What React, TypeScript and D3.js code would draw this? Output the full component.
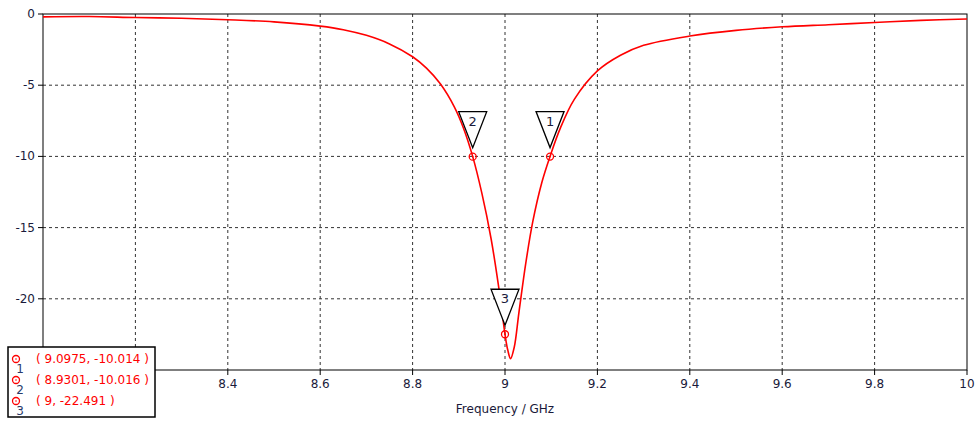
import React from 'react';
import * as d3 from 'd3';

const width = 977;
const height = 421;
const margin = { top: 14, right: 10, bottom: 51, left: 43 };

// S11 curve (GHz, dB)
const freq = [8.0, 8.1, 8.2, 8.3, 8.4, 8.5, 8.6, 8.65, 8.7, 8.75, 8.8, 8.83, 8.86, 8.89, 8.91, 8.93, 8.95, 8.97, 8.99, 9.0, 9.006, 9.012, 9.02, 9.03, 9.045, 9.06, 9.08, 9.0975, 9.12, 9.15, 9.2, 9.25, 9.3, 9.4, 9.5, 9.6, 9.7, 9.8, 9.9, 10.0];
const s11 = [-0.2, -0.18, -0.25, -0.3, -0.4, -0.55, -0.85, -1.1, -1.5, -2.1, -3.0, -3.8, -4.9, -6.5, -8.0, -10.0, -12.6, -15.8, -20.0, -22.5, -23.6, -24.2, -23.4, -21.0, -17.5, -14.6, -11.8, -10.0, -8.0, -6.0, -4.0, -2.9, -2.2, -1.55, -1.15, -0.9, -0.75, -0.6, -0.45, -0.35];

const markerIds = ['1', '2', '3'];
const markerX = [9.0975, 8.9301, 9];
const markerY = [-10.014, -10.016, -22.491];
const markerText = ['( 9.0975, -10.014 )', '( 8.9301, -10.016 )', '( 9, -22.491 )'];

const xTicks = [8.2, 8.4, 8.6, 8.8, 9, 9.2, 9.4, 9.6, 9.8, 10];
const yTicks = [0, -5, -10, -15, -20, -25];

const font = 'Tahoma, "DejaVu Sans", Verdana, sans-serif';
const tickColor = '#1a1a3a';

export default function App() {
  const x = d3.scaleLinear().domain([8, 10]).range([margin.left, width - margin.right]);
  const y = d3.scaleLinear().domain([-25, 0]).range([height - margin.bottom, margin.top]);
  const pts: [number, number][] = freq.map((f, i) => [f, s11[i]]);
  const line = d3.line<[number, number]>()
    .x(d => x(d[0]))
    .y(d => y(d[1]))
    .curve(d3.curveCatmullRom.alpha(0.5));

  const x0 = margin.left, x1 = width - margin.right;
  const y0 = margin.top, y1 = height - margin.bottom;

  return (
    <svg width={width} height={height} style={{ position: 'absolute', left: 0, top: 0, background: '#fff' }} fontFamily={font}>
      {/* grid */}
      {xTicks.filter(t => t < 10).map(t => (
        <line key={'gx' + t} x1={x(t)} x2={x(t)} y1={y0} y2={y1} stroke="#333" strokeDasharray="3,3" strokeWidth={1} />
      ))}
      {yTicks.filter(t => t < 0 && t > -25).map(t => (
        <line key={'gy' + t} x1={x0} x2={x1} y1={y(t)} y2={y(t)} stroke="#333" strokeDasharray="3,3" strokeWidth={1} />
      ))}
      {/* frame */}
      <rect x={x0} y={y0} width={x1 - x0} height={y1 - y0} fill="none" stroke="#000" strokeWidth={1} />
      {/* ticks */}
      {xTicks.map(t => (
        <g key={'tx' + t}>
          <line x1={x(t)} x2={x(t)} y1={y1} y2={y1 + 5} stroke="#000" />
          <text x={x(t)} y={y1 + 18} textAnchor="middle" fontSize={12} fill={tickColor}>{String(t)}</text>
        </g>
      ))}
      {yTicks.map(t => (
        <g key={'ty' + t}>
          <line x1={x0 - 5} x2={x0} y1={y(t)} y2={y(t)} stroke="#000" />
          <text x={x0 - 8} y={y(t) + 4} textAnchor="end" fontSize={12} fill={tickColor}>{String(t)}</text>
        </g>
      ))}
      <text x={(x0 + x1) / 2} y={413} textAnchor="middle" fontSize={12} fill={tickColor}>Frequency / GHz</text>

      {/* curve */}
      <path d={line(pts) ?? ''} fill="none" stroke="#ff0000" strokeWidth={1.6} />

      {/* markers */}
      {markerIds.map((id, i) => {
        const cx = x(markerX[i]);
        const cy = y(markerY[i]);
        const tipY = cy - 9;
        return (
          <g key={'m' + id}>
            <path d={`M${cx - 14},${tipY - 36} L${cx + 14},${tipY - 36} L${cx},${tipY} Z`} fill="#fff" stroke="#000" strokeWidth={1.3} />
            <text x={cx} y={tipY - 22} textAnchor="middle" fontSize={13} fill={tickColor}>{id}</text>
            <circle cx={cx} cy={cy} r={3.5} fill="none" stroke="#ff0000" strokeWidth={1.3} />
            <circle cx={cx} cy={cy} r={0.8} fill="#ff0000" />
          </g>
        );
      })}

      {/* legend */}
      <rect x={8} y={347} width={147} height={70} fill="#fff" stroke="#000" strokeWidth={1.5} />
      {markerIds.map((id, i) => {
        const ry = 359 + i * 21;
        return (
          <g key={'l' + id}>
            <circle cx={16} cy={ry} r={3.5} fill="none" stroke="#ff0000" strokeWidth={1.3} />
            <circle cx={16} cy={ry} r={0.8} fill="#ff0000" />
            <text x={20} y={ry + 14} textAnchor="middle" fontSize={12} fill="#2a3a6a">{id}</text>
            <text x={36} y={ry + 4} fontSize={12} fill="#ff0000">{markerText[i]}</text>
          </g>
        );
      })}
    </svg>
  );
}
